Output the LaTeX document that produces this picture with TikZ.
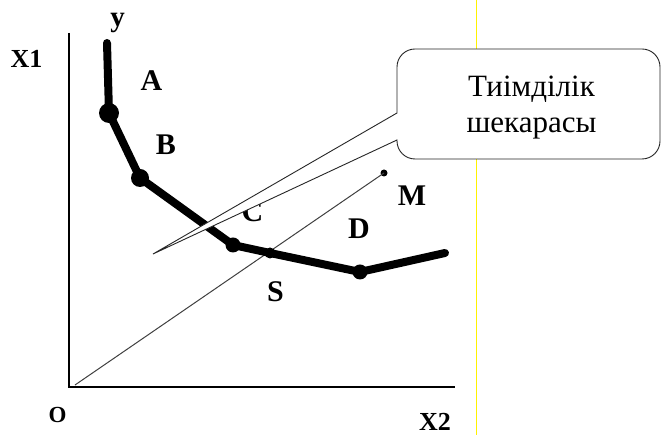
\documentclass[tikz,border=0pt]{standalone}
\usepackage{fontspec}
\setmainfont{Liberation Serif}
\usetikzlibrary{positioning}
\tikzset{
  ax/.style = {draw=black, line width=1.3pt},
  iq/.style = {draw=black, line width=8pt, line cap=round, line join=round},
  ray/.style = {draw=black!75, line width=1pt},
  dot/.style = {circle, fill=black, inner sep=0pt, minimum size=#1},
  lb/.style = {font=\fontsize{30}{34}\selectfont\bfseries, inner sep=0pt},
  axlb/.style = {font=\fontsize{26}{30}\selectfont\bfseries, inner sep=0pt},
  bub/.style = {draw=black!85, fill=white, line width=0.9pt},
  bubtxt/.style = {font=\fontsize{31}{38}\selectfont, inner sep=0pt, anchor=base},
  ylw/.style = {draw=yellow, line width=1pt}
}

\begin{document}
\begin{tikzpicture}[x=1pt, y=1pt]
  \useasboundingbox [fill=white] (0,0) rectangle (661,435);
  \draw [ylw] (476.5,0) -- (476.5,435);
  \coordinate (o) at (69,48);
  \coordinate (x1end) at (69,402);
  \coordinate (x2end) at (455,48);
  \draw [ax] (x1end) -- (o) -- (x2end);
  \coordinate (ktop) at (107,392);
  \coordinate (kA) at (109,322);
  \coordinate (kB) at (140,257);
  \coordinate (kC) at (233,190);
  \coordinate (kS) at (270,182);
  \coordinate (kD) at (360,163);
  \coordinate (kend) at (445,182);
  \coordinate (rs) at (75,50);
  \node [dot=7pt] (m) at (384,262) {};
  \draw [ray] (rs) -- (m.center);
  \draw [iq] (ktop) -- (kA) -- (kB) -- (kC) -- (kS) -- (kD) -- (kend);
  \node [dot=20pt] at (kA) {};
  \node [dot=18pt] at (kB) {};
  \node [dot=15pt] at (kC) {};
  \node [dot=11pt] at (kS) {};
  \node [dot=15pt] at (kD) {};
  \node [axlb, anchor=base, font=\fontsize{29}{32}\selectfont\bfseries] (ylb) at (117.5,408) {у};
  \node [axlb] (x1lb) at (26.5,376) {X1};
  \node [axlb] (x2lb) at (435,13.5) {X2};
  \node [axlb, font=\fontsize{23}{26}\selectfont\bfseries] (olb) at (57.5,20) {O};
  \node [lb] (alb) at (151.5,354.5) {A};
  \node [lb] (blb) at (166,290) {B};
  \node [lb] (clb) at (252.5,223) {C};
  \node [lb] (dlb) at (359,206.5) {D};
  \node [lb] (mlb) at (412,239) {M};
  \node [lb] (slb) at (275.5,143) {S};
  \coordinate (tip) at (153,181);
  \draw [bub] (tip) -- (397,295) -- (397,294) arc [start angle=180, end angle=270, radius=18]
    -- (642,276) arc [start angle=270, end angle=360, radius=18]
    -- (660,368) arc [start angle=0, end angle=90, radius=18]
    -- (415,386) arc [start angle=90, end angle=180, radius=18]
    -- (397,322) -- cycle;
  \node [bubtxt] (t1) at (531.5,338) {Тиімділік};
  \node [bubtxt] (t2) at (531.5,302) {шекарасы};
\end{tikzpicture}
\end{document}
